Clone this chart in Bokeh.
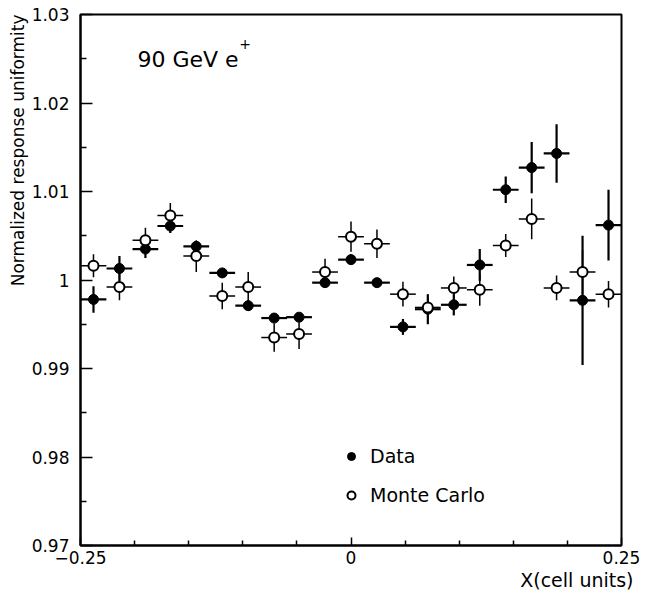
from bokeh.plotting import figure
from bokeh.models import (Range1d, FixedTicker, CustomJSTickFormatter, Label, Title,
                          Legend, LegendItem, ColumnDataSource)
from bokeh.embed import file_html
from bokeh.resources import INLINE

# ---- data ----
X = [-0.238, -0.214, -0.190, -0.167, -0.143, -0.119, -0.095, -0.071, -0.048, -0.024,
     0.000, 0.024, 0.048, 0.071, 0.095, 0.119, 0.143, 0.167, 0.190, 0.214, 0.238]
X_ERR = 0.0119

DATA_Y = [0.9978, 1.0013, 1.0035, 1.0061, 1.0038, 1.0008, 0.9971, 0.9957, 0.9958, 0.9997,
          1.0023, 0.9997, 0.9947, 0.9967, 0.9972, 1.0017, 1.0102, 1.0127, 1.0143, 0.9977,
          1.0062]
DATA_ERR = [0.0015, 0.0014, 0.0010, 0.0008, 0.0006, 0.0004, 0.0006, 0.0005, 0.0005, 0.0006,
            0.0006, 0.0004, 0.0009, 0.0017, 0.0012, 0.0018, 0.0015, 0.0029, 0.0033, 0.0073,
            0.0040]

MC_Y = [1.0016, 0.9992, 1.0045, 1.0073, 1.0027, 0.9982, 0.9992, 0.9935, 0.9939, 1.0009,
        1.0049, 1.0041, 0.9984, 0.9969, 0.9991, 0.9989, 1.0039, 1.0069, 0.9991, 1.0009,
        0.9984]
MC_ERR = [0.0013, 0.0015, 0.0014, 0.0014, 0.0018, 0.0015, 0.0017, 0.0016, 0.0017, 0.0015,
          0.0017, 0.0016, 0.0014, 0.0010, 0.0013, 0.0018, 0.0013, 0.0023, 0.0014, 0.0025,
          0.0015]

Y_TICKS = [0.97, 0.98, 0.99, 1.00, 1.01, 1.02, 1.03]
Y_MINOR = [0.975, 0.985, 0.995, 1.005, 1.015, 1.025]
X_TICKS = [-0.25, 0.0, 0.25]
X_MINOR = [-0.2, -0.15, -0.1, -0.05, 0.05, 0.1, 0.15, 0.2]

FONT = "DejaVu Sans"

p = figure(width=645, height=590, output_backend="svg", toolbar_location=None,
           x_range=Range1d(-0.25, 0.25), y_range=Range1d(0.97, 1.03),
           min_border_left=80, min_border_right=24, min_border_top=14, min_border_bottom=42)
p.xgrid.visible = False
p.ygrid.visible = False
p.outline_line_color = "black"
p.outline_line_width = 2
p.background_fill_color = "white"
p.border_fill_color = "white"

fmt = CustomJSTickFormatter(code="""
var s = tick.toFixed(2);
if (s == "1.00") { return "1"; }
if (s == "0.00" || s == "-0.00") { return "0"; }
return s.replace("-", "\u2212");
""")

yax = p.yaxis[0]
yax.ticker = FixedTicker(ticks=Y_TICKS, minor_ticks=Y_MINOR)
yax.formatter = fmt
yax.major_tick_in = 12
yax.major_tick_out = 0
yax.minor_tick_in = 6
yax.minor_tick_out = 0
yax.major_tick_line_width = 1.5
yax.minor_tick_line_width = 1.5
yax.axis_line_width = 2
yax.major_label_text_font = FONT
yax.major_label_text_font_size = "17px"
yax.major_label_text_color = "black"
yax.major_label_standoff = 11

xax = p.xaxis[0]
xax.ticker = FixedTicker(ticks=X_TICKS, minor_ticks=X_MINOR)
xax.formatter = fmt
xax.major_tick_in = 8
xax.major_tick_out = 0
xax.minor_tick_in = 5
xax.minor_tick_out = 0
xax.major_tick_line_width = 1.5
xax.minor_tick_line_width = 1.5
xax.axis_line_width = 2
xax.major_label_text_font = FONT
xax.major_label_text_font_size = "17px"
xax.major_label_text_color = "black"
xax.major_label_standoff = 5

# ---- error bars ----
mc_src = ColumnDataSource(dict(
    x=X, y=MC_Y,
    xl=[x - X_ERR for x in X], xr=[x + X_ERR for x in X],
    yl=[y - e for y, e in zip(MC_Y, MC_ERR)], yh=[y + e for y, e in zip(MC_Y, MC_ERR)]))
d_src = ColumnDataSource(dict(
    x=X, y=DATA_Y,
    xl=[x - X_ERR for x in X], xr=[x + X_ERR for x in X],
    yl=[y - e for y, e in zip(DATA_Y, DATA_ERR)], yh=[y + e for y, e in zip(DATA_Y, DATA_ERR)]))

p.segment(x0="xl", y0="y", x1="xr", y1="y", source=mc_src, line_color="black", line_width=1.5)
p.segment(x0="x", y0="yl", x1="x", y1="yh", source=mc_src, line_color="black", line_width=1.5)
p.segment(x0="xl", y0="y", x1="xr", y1="y", source=d_src, line_color="black", line_width=2.2)
p.segment(x0="x", y0="yl", x1="x", y1="yh", source=d_src, line_color="black", line_width=2.2)

r_data = p.scatter(x="x", y="y", source=d_src, marker="circle", size=10,
                   fill_color="black", line_color="black", line_width=1)
r_mc = p.scatter(x="x", y="y", source=mc_src, marker="circle", size=10,
                 fill_color="white", line_color="black", line_width=2)

legend = Legend(items=[LegendItem(label="Data", renderers=[r_data]),
                       LegendItem(label="Monte Carlo", renderers=[r_mc])],
                location=(261, 39), orientation="vertical",
                glyph_width=20, glyph_height=20, label_height=20, label_width=10,
                label_standoff=9, spacing=17, padding=0, margin=0,
                border_line_alpha=0, background_fill_alpha=0,
                label_text_font=FONT, label_text_font_size="19px",
                label_text_color="black")
p.add_layout(legend)

# ---- texts ----
p.add_layout(Label(x=-0.1974, y=1.02494, text="90 GeV e", text_font=FONT,
                   text_font_size="22px", text_color="black",
                   text_align="left", text_baseline="alphabetic"))
p.add_layout(Label(x=-0.0978, y=1.02663, text="+", text_font=FONT,
                   text_font_size="14px", text_color="black",
                   text_align="center", text_baseline="middle"))

ytitle = Title(text="Normalized response uniformity", align="right",
               text_font=FONT, text_font_size="17px", text_font_style="normal",
               text_color="black", standoff=2)
p.add_layout(ytitle, "left")
xtitle = Title(text="X(cell units)", align="right",
               text_font=FONT, text_font_size="19px", text_font_style="normal",
               text_color="black", standoff=0, offset=-12)
p.add_layout(xtitle, "below")

open("out.html", "w").write(file_html(p, INLINE))
